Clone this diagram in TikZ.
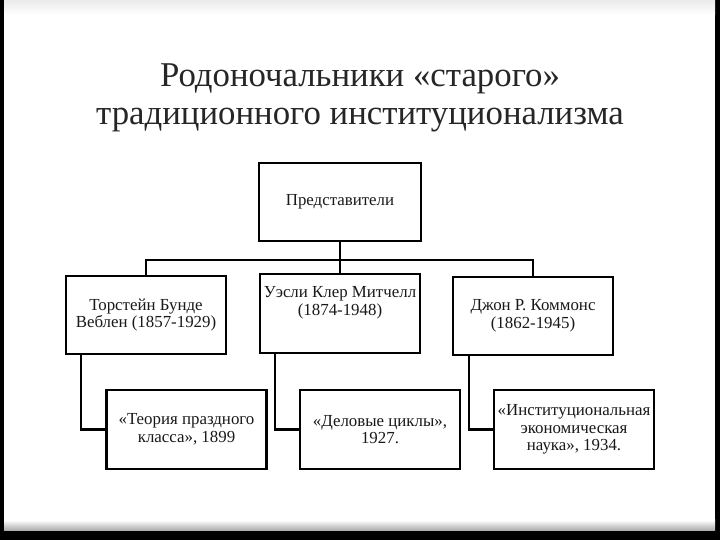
\documentclass[tikz,border=0pt]{standalone}
\usepackage{fontspec}
\setmainfont{Liberation Serif}
\usetikzlibrary{positioning,calc}

\begin{document}
\begin{tikzpicture}[line width=1.3pt,
  box/.style={draw, minimum width=3.2cm, minimum height=1.57cm, align=center,
    inner sep=2pt, text=black!90, font=\fontsize{9.6}{10}\selectfont}]
  \fill[black] (0,0) rectangle (14.4,10.8);
  \fill[white] (0.08,0.18) rectangle (14.3,10.8);
  \shade[top color=black!8, bottom color=white] (0.08,10.5) rectangle (14.3,10.8);
  \shade[top color=white, bottom color=black!35] (0.08,0.18) rectangle (14.3,0.4);
  \node[align=center, text=black!85, font=\fontsize{19.8}{21.8}\selectfont] (title) at (7.2,8.84)
    {Родоночальники «старого»\\традиционного институционализма};
  \node[box, minimum width=3.24cm] (rep) at (6.8,6.76) {Представители};
  \node[box] (veblen) at (2.92,4.5) {Торстейн Бунде\\Веблен (1857-1929)};
  \node[box] (mitchell) at (6.8,4.53) {Уэсли Клер Митчелл\\(1874-1948)\\[4pt]};
  \node[box] (commons) at (10.66,4.48) {Джон Р. Коммонс\\(1862-1945)};
  \node[box] (vbook) at (3.73,2.21) {«Теория праздного\\класса», 1899};
  \node[box] (mbook) at (7.6,2.21) {«Деловые циклы»,\\1927.};
  \node[box] (cbook) at (11.48,2.21) {«Институциональная\\экономическая\\наука», 1934.};
  \draw (rep.south) -- ++(0,-0.35) coordinate (bus);
  \draw (veblen.north) |- (bus) -| (commons.north);
  \draw (bus) -- (mitchell.north);
  \draw ($(veblen.south west)+(0.32,0)$) |- (vbook.west);
  \draw ($(mitchell.south west)+(0.32,0)$) |- (mbook.west);
  \draw ($(commons.south west)+(0.34,0)$) |- (cbook.west);
\end{tikzpicture}
\end{document}
